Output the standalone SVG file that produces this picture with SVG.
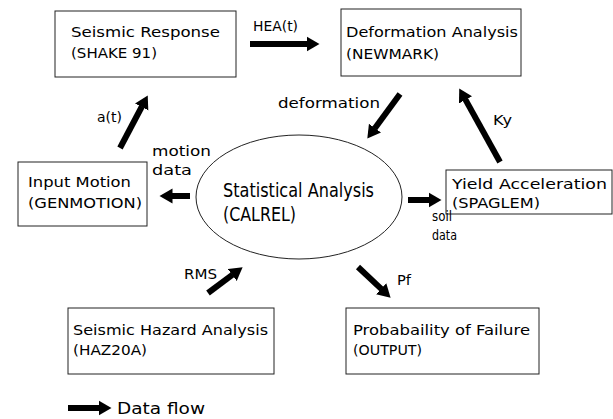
<svg xmlns="http://www.w3.org/2000/svg" width="613" height="419" viewBox="0 0 613 419">
<style>
  .box { fill: #fff; stroke: #222; stroke-width: 1; }
  .ell { fill: #fff; stroke: #222; stroke-width: 1; }
  text { font-family: "DejaVu Sans", "Liberation Sans", sans-serif; font-size: 14px; fill: #000; }
  .big { font-size: 19px; }
  .leg { font-size: 16px; }
  .arr { stroke: #000; stroke-width: 6; fill: none; marker-end: url(#head); }
</style>
<defs>
  <marker id="head" markerUnits="userSpaceOnUse" markerWidth="14" markerHeight="16" viewBox="0 0 14 16" refX="0.5" refY="8" orient="auto">
    <path d="M0,0.5 L13,8 L0,15.5 Z" fill="#000"/>
  </marker>
</defs>
<rect width="613" height="419" fill="#fff"/>

<g id="seismic-response">
  <rect class="box" x="55" y="11" width="181" height="66"/>
  <text x="71" y="37" textLength="149" lengthAdjust="spacingAndGlyphs">Seismic Response</text>
  <text x="71" y="58" textLength="86" lengthAdjust="spacingAndGlyphs">(SHAKE 91)</text>
</g>
<g id="deformation-analysis">
  <rect class="box" x="341" y="9" width="180" height="67"/>
  <text x="346" y="37" textLength="172" lengthAdjust="spacingAndGlyphs">Deformation Analysis</text>
  <text x="346" y="59" textLength="93" lengthAdjust="spacingAndGlyphs">(NEWMARK)</text>
</g>
<g id="input-motion">
  <rect class="box" x="18" y="162" width="129" height="64"/>
  <text x="28" y="187" textLength="103" lengthAdjust="spacingAndGlyphs">Input Motion</text>
  <text x="28" y="208" textLength="114" lengthAdjust="spacingAndGlyphs">(GENMOTION)</text>
</g>
<g id="statistical-analysis">
  <ellipse class="ell" cx="299" cy="197" rx="103" ry="62"/>
  <text class="big" x="223" y="197" textLength="151" lengthAdjust="spacingAndGlyphs">Statistical Analysis</text>
  <text class="big" x="223" y="221" textLength="73" lengthAdjust="spacingAndGlyphs">(CALREL)</text>
</g>
<g id="yield-acceleration">
  <rect class="box" x="446" y="170" width="166" height="44"/>
  <text x="452" y="189" textLength="155" lengthAdjust="spacingAndGlyphs">Yield Acceleration</text>
  <text x="452" y="208" textLength="88" lengthAdjust="spacingAndGlyphs">(SPAGLEM)</text>
</g>
<g id="seismic-hazard-analysis">
  <rect class="box" x="68" y="308" width="206" height="66"/>
  <text x="73" y="335" textLength="195" lengthAdjust="spacingAndGlyphs">Seismic Hazard Analysis</text>
  <text x="73" y="355" textLength="74" lengthAdjust="spacingAndGlyphs">(HAZ20A)</text>
</g>
<g id="probability-of-failure">
  <rect class="box" x="346" y="308" width="193" height="66"/>
  <text x="353" y="335" textLength="177" lengthAdjust="spacingAndGlyphs">Probabaility of Failure</text>
  <text x="353" y="355" textLength="69" lengthAdjust="spacingAndGlyphs">(OUTPUT)</text>
</g>

<g id="connectors">
  <line class="arr" x1="250" y1="44" x2="307" y2="44"/>
  <text x="253" y="31" textLength="45" lengthAdjust="spacingAndGlyphs">HEA(t)</text>
  <line class="arr" x1="400" y1="94" x2="374.7" y2="128.5"/>
  <text x="278" y="108" textLength="102" lengthAdjust="spacingAndGlyphs">deformation</text>
  <line class="arr" x1="500" y1="162" x2="465.3" y2="99.4"/>
  <text x="493" y="125" textLength="19" lengthAdjust="spacingAndGlyphs">Ky</text>
  <line class="arr" x1="120" y1="148" x2="141.9" y2="106.5"/>
  <text x="97" y="122" textLength="25" lengthAdjust="spacingAndGlyphs">a(t)</text>
  <line class="arr" x1="190" y1="196" x2="172" y2="196"/>
  <text x="152" y="156" textLength="59" lengthAdjust="spacingAndGlyphs">motion</text>
  <text x="152" y="175" textLength="40" lengthAdjust="spacingAndGlyphs">data</text>
  <line class="arr" x1="408" y1="200" x2="429" y2="200"/>
  <text x="432" y="221" textLength="20" lengthAdjust="spacingAndGlyphs">soil</text>
  <text x="432" y="240" textLength="25" lengthAdjust="spacingAndGlyphs">data</text>
  <line class="arr" x1="208" y1="293" x2="232.6" y2="274.7"/>
  <text x="184" y="279" textLength="33" lengthAdjust="spacingAndGlyphs">RMS</text>
  <line class="arr" x1="358" y1="267" x2="381.5" y2="289.1"/>
  <text x="397" y="285" textLength="14" lengthAdjust="spacingAndGlyphs">Pf</text>
</g>

<g id="legend">
  <line class="arr" x1="68" y1="408" x2="99" y2="408"/>
  <text class="leg" x="117" y="414" textLength="88" lengthAdjust="spacingAndGlyphs">Data flow</text>
</g>
</svg>
